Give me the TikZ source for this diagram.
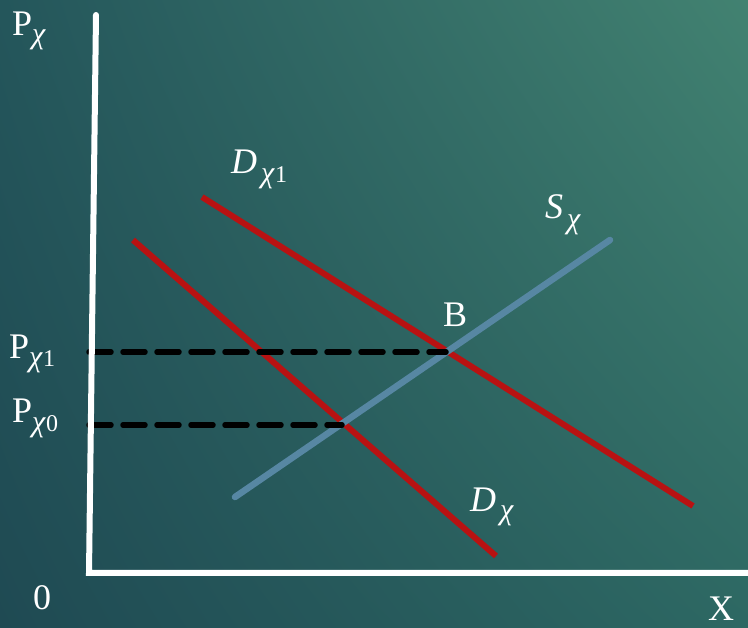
\documentclass[tikz,border=0pt]{standalone}
\usepackage{fontspec}
\usetikzlibrary{shadings}
\setmainfont{Liberation Serif}
\definecolor{bgul}{RGB}{36,86,91}
\definecolor{bgur}{RGB}{66,130,113}
\definecolor{bgll}{RGB}{31,74,83}
\definecolor{bglr}{RGB}{45,104,99}
\definecolor{dred}{RGB}{184,18,18}
\definecolor{sblue}{RGB}{87,135,163}
\newcommand\subf{\fontsize{24}{24}\selectfont}
\newcommand\chif{{\fontsize{30}{30}\selectfont\textit{χ}}}
\newcommand\lowr[2]{\raisebox{-#1pt}{\subf #2}}
\tikzset{
  lbl/.style={anchor=base west, inner sep=0pt, text=white, font=\fontsize{36}{36}\selectfont},
  axisline/.style={draw=white, line width=6pt, line cap=round, line join=miter},
  demand/.style={draw=dred, line width=6pt},
  supply/.style={draw=sblue, line width=6.5pt, line cap=round},
  guide/.style={draw=black, line width=5.5pt, line cap=round, dash pattern=on 22pt off 12pt}
}
\begin{document}
\begin{tikzpicture}[x=1pt,y=-1pt]
\useasboundingbox (0,0) rectangle (748,628);
\shade[upper left=bgul, upper right=bgur, lower left=bgll, lower right=bglr] (0,0) rectangle (748,628);
% curve end points
\coordinate (d1a) at (202,197); \coordinate (d1b) at (693,506);
\coordinate (d0a) at (133,240); \coordinate (d0b) at (496,556);
\coordinate (sa) at (235,497);  \coordinate (sb) at (610,240);
\coordinate (ytop) at (96,15); \coordinate (orig) at (89,573); \coordinate (xend) at (752,573);
\coordinate (b1) at (89,352); \coordinate (B) at (446,352);
\coordinate (b0) at (89,425); \coordinate (A) at (342,425);
% curves
\draw[demand] (d1a) -- (d1b);
\draw[demand] (d0a) -- (d0b);
\draw[supply] (sa) -- (sb);
\draw[guide] (b1) -- (B);
\draw[guide] (b0) -- (A);
\draw[axisline] (ytop) -- (orig) -- (xend);
% labels
\node[lbl] (py) at (12,36) {P\lowr{8}{\chif}};
\node[lbl] (p1) at (9,359) {P\lowr{8}{\chif 1}};
\node[lbl] (p0) at (12,423) {P\lowr{9}{\chif 0}};
\node[lbl] (ld1) at (231,174) {\textit{D}\lowr{9}{\,\chif 1}};
\node[lbl] (ls) at (545,219) {\textit{S}\lowr{10}{\,\chif}};
\node[lbl] (lb) at (443,327) {B};
\node[lbl] (ld0) at (470,512) {\textit{D}\lowr{8}{\,\chif}};
\node[lbl, anchor=base] (zero) at (42,609) {0};
\node[lbl, anchor=base] (xl) at (721,620) {X};
\end{tikzpicture}
\end{document}
